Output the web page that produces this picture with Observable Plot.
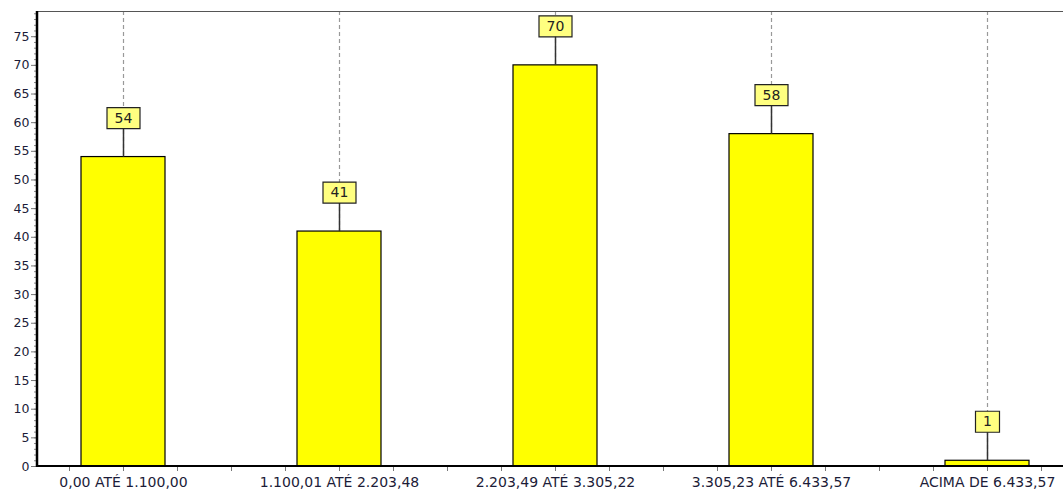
<!DOCTYPE html>
<html>
<head>
<meta charset="utf-8">
<script src="https://cdn.jsdelivr.net/npm/d3@7"></script>
<script src="https://cdn.jsdelivr.net/npm/@observablehq/plot@0.6"></script>
<style>
  html, body { margin: 0; padding: 0; background: #fff; }
  svg { display: block; }
</style>
</head>
<body>
<div id="chart"></div>
<script>
const categories = ["0,00 ATÉ 1.100,00", "1.100,01 ATÉ 2.203,48", "2.203,49 ATÉ 3.305,22", "3.305,23 ATÉ 6.433,57", "ACIMA DE 6.433,57"];
const values = [54, 41, 70, 58, 1];
const yTicks = [0, 5, 10, 15, 20, 25, 30, 35, 40, 45, 50, 55, 60, 65, 70, 75];
const yMinorTicks = d3.range(0, 80, 1);

const data = categories.map((c, i) => ({cat: c, value: values[i], label: String(values[i])}));

const boxSymbol = (w, h) => ({draw(ctx) { ctx.rect(-w / 2, -h / 2, w, h); }});

const frameLines = (index, scales, values, dims) => {
  const g = d3.create("svg:g");
  const l = dims.marginLeft, r = dims.width - dims.marginRight;
  const t = dims.marginTop, b = dims.height - dims.marginBottom;
  g.append("line").attr("x1", l).attr("x2", r).attr("y1", t + 0.5).attr("y2", t + 0.5)
    .attr("stroke", "#555").attr("stroke-width", 1.2);
  g.append("line").attr("x1", l).attr("x2", l).attr("y1", t).attr("y2", b + 1)
    .attr("stroke", "#000").attr("stroke-width", 2.5);
  g.append("line").attr("x1", l).attr("x2", r).attr("y1", b).attr("y2", b)
    .attr("stroke", "#000").attr("stroke-width", 2.2);
  return g.node();
};

const chart = Plot.plot({
  width: 1063,
  height: 493,
  marginLeft: 37,
  marginRight: 0,
  marginTop: 11,
  marginBottom: 27,
  style: {fontFamily: "DejaVu Sans, sans-serif", fontSize: "12px", color: "#1c1c38", background: "#fff"},
  x: {domain: categories, range: [14.9, 1096.1], padding: 0, label: null},
  y: {domain: [0, 79.4], label: null},
  marks: [
    Plot.ruleX(categories, {x: d => d, stroke: "#999", strokeDasharray: "4,3", strokeWidth: 1.2}),
    Plot.barY(data, {x: "cat", y: "value", fill: "#ffff00", stroke: "#000", strokeWidth: 1.2, insetLeft: 66, insetRight: 66}),
    Plot.ruleX(data, {x: "cat", y1: "value", y2: d => d.value + 6, stroke: "#333", strokeWidth: 1.5}),
    Plot.dot(data.filter(d => d.label.length > 1), {x: "cat", y: "value", dy: -39, symbol: boxSymbol(33, 21), r: 5, fill: "#ffff80", stroke: "#222", strokeWidth: 1.2}),
    Plot.dot(data.filter(d => d.label.length === 1), {x: "cat", y: "value", dy: -39, symbol: boxSymbol(24, 21), r: 5, fill: "#ffff80", stroke: "#222", strokeWidth: 1.2}),
    Plot.text(data, {x: "cat", y: "value", dy: -39, text: "label", fontSize: 14, fill: "#222"}),
    Plot.axisY({ticks: yMinorTicks, tickSize: 3, tickFormat: () => "", stroke: "#888", label: null}),
    Plot.axisY({ticks: yTicks, tickSize: 6, tickPadding: 2, fontSize: 12.5, stroke: "#777", fill: "#1c1c38", label: null}),
    Plot.axisX({tickSize: 5, tickPadding: 6, fontSize: 14, stroke: "#777", fill: "#1c1c38", label: null}),
    Plot.axisX({tickSize: 5, tickFormat: () => "", dx: -54, stroke: "#777", label: null}),
    Plot.axisX({tickSize: 5, tickFormat: () => "", dx: 54, stroke: "#777", label: null}),
    Plot.axisX({tickSize: 5, tickFormat: () => "", dx: 108, stroke: "#777", label: null}),
    frameLines
  ]
});
document.getElementById("chart").append(chart);
</script>
</body>
</html>
